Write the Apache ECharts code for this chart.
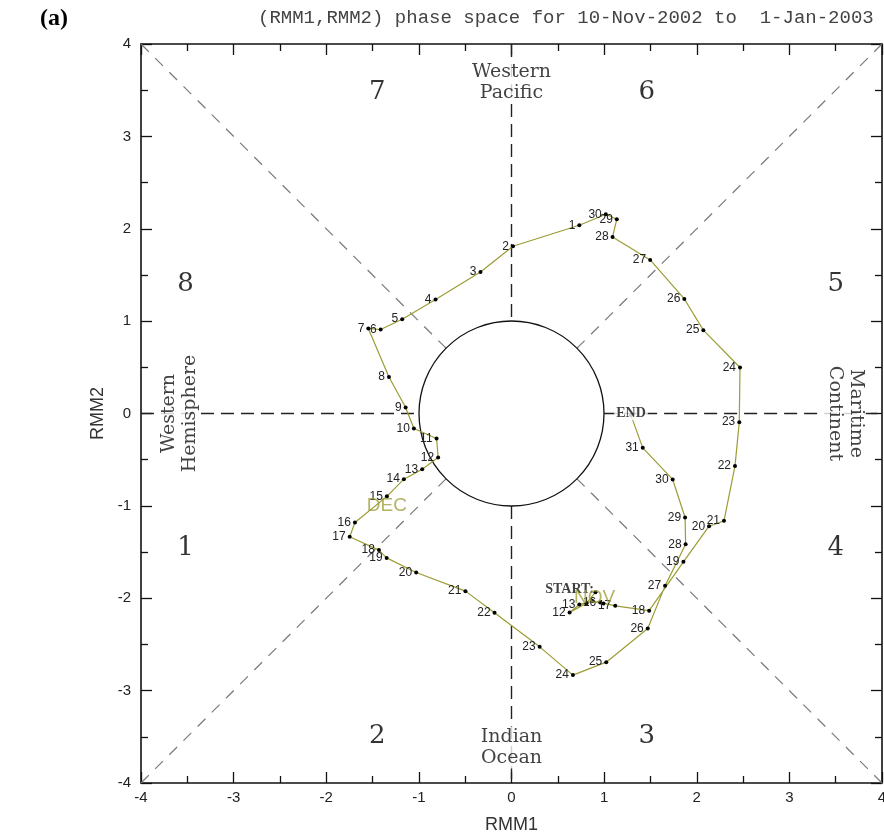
<!DOCTYPE html>
<html>
<head>
<meta charset="utf-8">
<script src="https://cdn.jsdelivr.net/npm/echarts@6/dist/echarts.min.js"></script>
<style>
html,body{margin:0;padding:0;background:#fff;}
#chart{width:884px;height:835px;}
</style>
</head>
<body>
<div id="chart"></div>
<script>
// ---- data (10-Nov-2002 .. 1-Jan-2003) ----
const dates = [
  '10-Nov','11-Nov','12-Nov','13-Nov','14-Nov','15-Nov','16-Nov','17-Nov','18-Nov','19-Nov','20-Nov',
  '21-Nov','22-Nov','23-Nov','24-Nov','25-Nov','26-Nov','27-Nov','28-Nov','29-Nov','30-Nov',
  '1-Dec','2-Dec','3-Dec','4-Dec','5-Dec','6-Dec','7-Dec','8-Dec','9-Dec','10-Dec','11-Dec','12-Dec',
  '13-Dec','14-Dec','15-Dec','16-Dec','17-Dec','18-Dec','19-Dec','20-Dec','21-Dec','22-Dec','23-Dec',
  '24-Dec','25-Dec','26-Dec','27-Dec','28-Dec','29-Dec','30-Dec','31-Dec','1-Jan'
];
const dayLabels = [
  '','','12','13','','','16','17','18','19','20',
  '21','22','23','24','25','26','27','28','29','30',
  '1','2','3','4','5','6','7','8','9','10','11','12',
  '13','14','15','16','17','18','19','20','21','22','23',
  '24','25','26','27','28','29','30','31',''
];
const rmm1 = [
  0.907,0.810,0.627,0.732,0.875,0.993,0.958,1.120,1.486,1.856,2.133,
  2.294,2.413,2.459,2.467,2.071,1.866,1.497,1.091,1.137,1.018,
  0.732,0.016,-0.335,-0.820,-1.180,-1.413,-1.546,-1.323,-1.143,-1.054,-0.809,-0.792,
  -0.964,-1.162,-1.345,-1.690,-1.747,-1.431,-1.348,-1.029,-0.497,-0.183,0.304,
  0.663,1.023,1.471,1.658,1.880,1.874,1.740,1.417,1.290
];
const rmm2 = [
  -1.934,-2.053,-2.154,-2.067,-2.031,-2.056,-2.045,-2.082,-2.134,-1.606,-1.220,
  -1.162,-0.567,-0.094,0.498,0.902,1.240,1.662,1.911,2.103,2.157,
  2.038,1.811,1.532,1.234,1.021,0.909,0.920,0.396,0.065,-0.162,-0.271,-0.476,
  -0.603,-0.711,-0.897,-1.180,-1.335,-1.479,-1.563,-1.721,-1.923,-2.156,-2.526,
  -2.832,-2.692,-2.327,-1.866,-1.415,-1.126,-0.714,-0.372,-0.020
];
const axisTicks = [-4,-3,-2,-1,0,1,2,3,4];
const phaseNames = ['1','2','3','4','5','6','7','8'];
const regionNames = ['Western\nPacific','Indian\nOcean','Maritime\nContinent','Western\nHemisphere'];
const monthNames = ['NOV','DEC'];
const titleText = '(RMM1,RMM2) phase space for 10-Nov-2002 to  1-Jan-2003';

// ---- layout (annotation anchors in RMM coordinates) ----
const phasePos = [[-3.52,-1.46],[-1.45,-3.49],[1.46,-3.49],[3.50,-1.46],[3.50,1.40],[1.46,3.48],[-1.45,3.48],[-3.52,1.40]];
const regionPos = [[0,3.585],[0,-3.615],[3.60,0],[-3.585,0]];
const regionRot = [0,0,-90,90];
const monthPos = [[0.897,-2.0],[-1.345,-1.003]];
const D = Math.SQRT1_2;
const guideSegs = [
  [-4,4,-D,D,'d'],[4,4,D,D,'d'],[-4,-4,-D,-D,'d'],[4,-4,D,-D,'d'],
  [0,4,0,1,'a'],[0,-1,0,-4,'a'],[-4,0,-1,0,'a'],[1,0,4,0,'a']
];

const trackColor = '#9c9c34';
const tickFont = {fontFamily:'Liberation Sans', fontSize:15, color:'#222'};

function mkX(pos, show){
  return {
    type:'value', position:pos, min:axisTicks[0], max:axisTicks[axisTicks.length-1], interval:1,
    name: show ? 'RMM1' : '', nameLocation:'middle', nameGap:33,
    nameTextStyle:{fontFamily:'Liberation Sans', fontSize:18, color:'#333'},
    axisLine:{show:true, onZero:false, lineStyle:{color:'#111', width:1.6}},
    axisTick:{show:true, inside:true, length:11, lineStyle:{color:'#111', width:1.3}},
    minorTick:{show:true, splitNumber:2, length:7, lineStyle:{color:'#111', width:1.3}},
    axisLabel:Object.assign({show:show, margin:7, formatter:v=>String(v)}, tickFont),
    splitLine:{show:false}
  };
}
function mkY(pos, show){
  return {
    type:'value', position:pos, min:axisTicks[0], max:axisTicks[axisTicks.length-1], interval:1,
    name: show ? 'RMM2' : '', nameLocation:'middle', nameGap:33,
    nameTextStyle:{fontFamily:'Liberation Sans', fontSize:18, color:'#333'},
    axisLine:{show:true, onZero:false, lineStyle:{color:'#111', width:1.6}},
    axisTick:{show:true, inside:true, length:11, lineStyle:{color:'#111', width:1.3}},
    minorTick:{show:true, splitNumber:2, length:7, lineStyle:{color:'#111', width:1.3}},
    axisLabel:Object.assign({show:show, margin:10, formatter:v=>String(v)}, tickFont),
    splitLine:{show:false}
  };
}

const trackData = rmm1.map((x,i)=>({
  value:[x, rmm2[i]],
  label:{show: dayLabels[i] !== '', formatter: dayLabels[i]}
}));

const chart = echarts.init(document.getElementById('chart'), null, {renderer:'canvas'});
chart.setOption({
  animation:false,
  backgroundColor:'#fff',
  grid:{left:141, right:2, top:44, bottom:52, containLabel:false, outerBoundsMode:'none'},
  xAxis:[mkX('bottom', true), mkX('top', false)],
  yAxis:[mkY('left', true), mkY('right', false)],
  graphic:[
    {type:'text', left:258, top:8, style:{text:titleText, font:'19px "Liberation Mono"', fill:'#444'}},
    {type:'text', left:40, top:7, style:{text:'(a)', font:'bold 24px "Liberation Serif"', fill:'#000'}}
  ],
  series:[
    { // guide lines
      type:'custom', xAxisIndex:0, yAxisIndex:0, silent:true, z:1,
      data: guideSegs.map(s=>s.slice(0,4)),
      renderItem:(p, api)=>{
        const s = guideSegs[p.dataIndex];
        const a = api.coord([s[0], s[1]]), b = api.coord([s[2], s[3]]);
        const isDiag = s[4]==='d';
        return {type:'line', shape:{x1:a[0], y1:a[1], x2:b[0], y2:b[1]},
          style:{stroke: isDiag ? '#7a7a7a' : '#222', lineWidth: isDiag ? 1.2 : 1.4,
                 lineDash: isDiag ? [11,9] : [13,7], fill:null}};
      }
    },
    { // unit circle
      type:'custom', xAxisIndex:0, yAxisIndex:0, silent:true, z:2,
      data:[[0,0]],
      renderItem:(p, api)=>{
        const c = api.coord([0,0]);
        const sz = api.size([1,1]);
        return {type:'circle', shape:{cx:c[0], cy:c[1], r:(sz[0]+sz[1])/2},
          style:{stroke:'#111', lineWidth:1.3, fill:null}};
      }
    },
    { // track
      type:'line', name:'RMM', xAxisIndex:0, yAxisIndex:0, z:5,
      data: trackData,
      symbol:'circle', symbolSize:4,
      itemStyle:{color:'#000'},
      lineStyle:{color:trackColor, width:1.2},
      label:{show:true, position:'left', distance:2, fontFamily:'Liberation Sans', fontSize:12, color:'#222'}
    },
    { // START / END markers
      type:'scatter', xAxisIndex:0, yAxisIndex:0, z:6, symbolSize:1, itemStyle:{color:'rgba(0,0,0,0)'},
      data:[
        {value:[rmm1[0], rmm2[0]], label:{show:true, formatter:'START:', position:'left', distance:1, offset:[0,-3],
          fontFamily:'Liberation Serif', fontWeight:'bold', fontSize:14, color:'#111'}},
        {value:[rmm1[rmm1.length-1], rmm2[rmm2.length-1]], label:{show:true, formatter:'END', position:'inside', offset:[0,-2],
          fontFamily:'Liberation Serif', fontWeight:'bold', fontSize:14, color:'#111', backgroundColor:'#fff', padding:[0,2]}}
      ]
    },
    { // month labels
      type:'scatter', xAxisIndex:0, yAxisIndex:0, z:7, symbolSize:1, itemStyle:{color:'rgba(0,0,0,0)'},
      data: monthNames.map((m,i)=>({value:monthPos[i], label:{formatter:m}})),
      label:{show:true, position:'inside', fontFamily:'Liberation Sans', fontSize:19, color:'#a0a040'}
    },
    { // phase numbers
      type:'scatter', xAxisIndex:0, yAxisIndex:0, z:3, symbolSize:1, itemStyle:{color:'rgba(0,0,0,0)'},
      data: phaseNames.map((n,i)=>({value:phasePos[i], label:{formatter:n}})),
      label:{show:true, position:'inside', fontFamily:'DejaVu Serif', fontSize:26, color:'#000'}
    },
    { // region names
      type:'scatter', xAxisIndex:0, yAxisIndex:0, z:3, symbolSize:1, itemStyle:{color:'rgba(0,0,0,0)'},
      data: regionNames.map((n,i)=>({value:regionPos[i], label:{formatter:n, rotate:regionRot[i]}})),
      label:{show:true, position:'inside', fontFamily:'DejaVu Serif', fontSize:19, lineHeight:21, color:'#111',
             backgroundColor:'#fff', align:'center'}
    }
  ]
});
</script>
</body>
</html>
